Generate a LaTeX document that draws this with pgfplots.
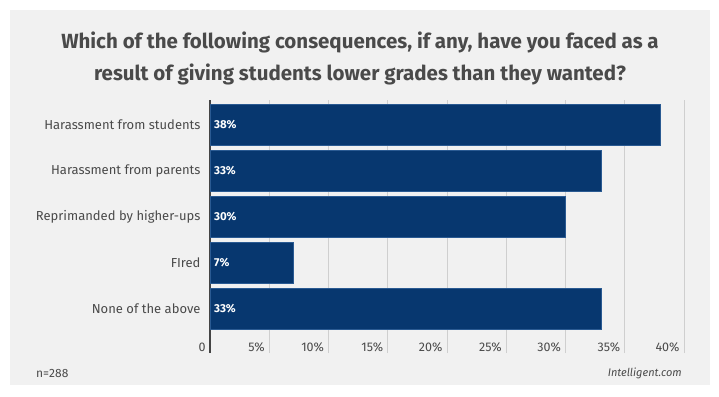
\documentclass[border=0pt]{standalone}
\usepackage{pgfplots}
\pgfplotsset{compat=1.18}
\usepackage{pgfplotstable}
\usepackage{fontspec}
\setmainfont{Fira Sans}
\definecolor{bgpanel}{HTML}{F1F1F1}
\definecolor{barblue}{HTML}{07376F}
\definecolor{baredge}{HTML}{2A5A92}
\definecolor{txt}{HTML}{4A4A4A}
\definecolor{gridc}{HTML}{CFCFCF}
\definecolor{axisc}{HTML}{444444}

\pgfplotstableread{
y value
4 38
3 33
2 30
1 7
0 33
}\datatable

\begin{document}
\begin{tikzpicture}[x=1bp,y=1bp]
\useasboundingbox (0,0) rectangle (719,396);
\fill[white] (0,0) rectangle (719,396);
\fill[bgpanel] (10,11) rectangle (710,386);
\node[font=\fontsize{20.5bp}{24bp}\selectfont\bfseries, text=txt] at (360,354) {Which of the following consequences, if any, have you faced as a};
\node[font=\fontsize{20.5bp}{24bp}\selectfont\bfseries, text=txt] at (360,322) {result of giving students lower grades than they wanted?};
\node[anchor=west, font=\fontsize{12bp}{14bp}\selectfont, text=txt, inner sep=0pt] at (36,23) {n=288};
\node[anchor=east, font=\fontsize{11bp}{13bp}\selectfont\itshape, text=txt, inner sep=0pt] at (682,23) {Intelligent.com};
\begin{axis}[
  at={(210bp,43bp)}, anchor=south west,
  scale only axis, width=474bp, height=253bp,
  xmin=0, xmax=40, ymin=-0.957, ymax=4.543,
  /pgf/number format/assume math mode=true,
  axis x line*=bottom, x axis line style={draw=none},
  axis y line*=left, y axis line style={draw=axisc, line width=1.6bp},
  major tick length=0pt,
  xtick={0,5,...,40},
  xticklabels={0,5\%,10\%,15\%,20\%,25\%,30\%,35\%,40\%},
  xticklabel style={anchor=east, xshift=-1bp, yshift=6bp, font=\fontsize{12.5bp}{14bp}\selectfont, text=txt},
  xmajorgrids, grid style={draw=gridc, line width=0.8bp},
  ytick={0,1,2,3,4},
  yticklabels={None of the above,FIred,Reprimanded by higher-ups,Harassment from parents,Harassment from students},
  yticklabel style={anchor=east, xshift=-6bp, font=\fontsize{13bp}{15bp}\selectfont, text=txt},
  clip=false,
]
\addplot[xbar, bar width=0.89, fill=barblue, draw=baredge, line width=0.5bp] table[x=value, y=y] {\datatable};
\addplot[only marks, mark=none, point meta=\thisrow{value},
  nodes near coords={\pgfmathprintnumber{\pgfplotspointmeta}\%},
  nodes near coords style={anchor=west, xshift=0.5bp, font=\fontsize{11.5bp}{13bp}\selectfont\bfseries, text=white}]
  table[x expr=0, y=y] {\datatable};
\end{axis}
\end{tikzpicture}
\end{document}
